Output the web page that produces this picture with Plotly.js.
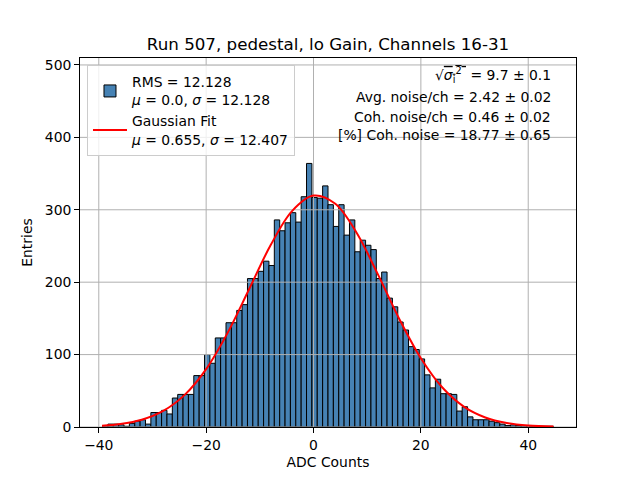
<!DOCTYPE html>
<html>
<head>
<meta charset="utf-8">
<script src="https://cdn.plot.ly/plotly-3.0.1.min.js"></script>
<style>html,body{margin:0;padding:0;background:#fff;}#plot{width:640px;height:480px;}</style>
</head>
<body>
<div id="plot"></div>
<script>
// Histogram of ADC counts (bin width 1, first bin low edge)
const binLow = -39.3;
const binWidth = 1;
const counts = [
  2, 4, 4, 3, 1, 5, 8, 10, 4, 20,
  20, 23, 18, 40, 45, 45, 45, 71, 71, 100,
  88, 123, 123, 144, 144, 161, 169, 205, 205, 215,
  229, 223, 286, 271, 282, 296, 283, 318, 364, 317,
  316, 333, 307, 277, 307, 265, 286, 242, 258, 251,
  245, 205, 214, 178, 166, 145, 134, 111, 107, 94,
  72, 54, 66, 46, 46, 45, 22, 28, 14, 10,
  10, 10, 8, 6, 4, 2, 3, 2, 2, 1,
  1, 1, 1, 1
];
// Gaussian fit curve
const fitX = [-39.4, -36, -32, -28, -24, -20, -16, -12, -8, -4, 0, 4, 8, 12, 16, 20, 24, 28, 32, 36, 40, 44.7];
const fitY = [1.75, 4.1, 10.0, 22.2, 44.4, 80.0, 130, 190.2, 250.9, 298.2, 319.6, 308.6, 268.6, 210.7, 148.9, 94.9, 54.5, 28.2, 13.2, 5.5, 2.1, 0.6];

const xTicks = [-40, -20, 0, 20, 40];
const yTicks = [0, 100, 200, 300, 400, 500];
const xRange = [-43.5, 48.9];
const yRange = [0, 509.6];

const titleText = 'Run 507, pedestal, lo Gain, Channels 16-31';
const histLabel = 'RMS = 12.128<br><i>μ</i> = 0.0, <i>σ</i> = 12.128';
const fitLabel = 'Gaussian Fit<br><i>μ</i> = 0.655, <i>σ</i> = 12.407';
const infoLines = [
  '√<span style="text-decoration:overline"><i>σ</i><sub>i</sub><sup>2</sup> </span> = 9.7 ± 0.1',
  'Avg. noise/ch = 2.42 ± 0.02',
  'Coh. noise/ch = 0.46 ± 0.02',
  '[%] Coh. noise = 18.77 ± 0.65'
];

const centers = counts.map((_, i) => binLow + binWidth * (i + 0.5));

// grid lines built from tick arrays (drawn above bars, below fit like matplotlib)
const gx = [], gy = [];
xTicks.forEach(t => { gx.push(t, t, null); gy.push(yRange[0], yRange[1], null); });
yTicks.forEach(t => { gx.push(xRange[0], xRange[1], null); gy.push(t, t, null); });

const FONT = 'DejaVu Sans, sans-serif';
const FS = 13.9;

const traces = [
  {
    type: 'bar', x: centers, y: counts, width: binWidth,
    marker: {color: '#4682b4', line: {color: '#000000', width: 1}},
    name: histLabel, showlegend: true, hoverinfo: 'skip'
  },
  {
    type: 'scatter', mode: 'lines', x: gx, y: gy,
    line: {color: '#b0b0b0', width: 1}, showlegend: false, hoverinfo: 'skip', connectgaps: false
  },
  {
    type: 'scatter', mode: 'lines', x: fitX, y: fitY,
    line: {color: '#ff0000', width: 2, shape: 'spline', smoothing: 1},
    name: fitLabel
  }
];

const infoY = [0.953, 0.894, 0.840, 0.7925];
const annotations = infoLines.map((t, i) => ({
  text: t, xref: 'paper', yref: 'paper', x: 0.953, y: infoY[i],
  xanchor: 'right', yanchor: 'middle', showarrow: false,
  font: {family: FONT, size: FS, color: '#000'}
}));

const axisCommon = {
  showgrid: false, zeroline: false, showline: true, mirror: true,
  linecolor: '#000', linewidth: 1, ticks: 'outside', ticklen: 4.9, tickwidth: 1,
  tickcolor: '#000', tickfont: {family: FONT, size: FS, color: '#000'}
};

const layout = {
  width: 640, height: 480,
  margin: {l: 80, r: 64, t: 58, b: 53, pad: 0},
  paper_bgcolor: '#fff', plot_bgcolor: '#fff',
  font: {family: FONT, color: '#000'},
  bargap: 0,
  title: {text: titleText, font: {family: FONT, size: 16.7, color: '#000'},
          xref: 'paper', x: 0.5, xanchor: 'center', yref: 'container', y: 0.908, yanchor: 'middle'},
  xaxis: Object.assign({}, axisCommon, {
    range: xRange, tickvals: xTicks, autorange: false,
    title: {text: 'ADC Counts', font: {family: FONT, size: FS, color: '#000'}, standoff: 5}
  }),
  yaxis: Object.assign({}, axisCommon, {
    range: yRange, tickvals: yTicks, autorange: false,
    title: {text: 'Entries', font: {family: FONT, size: FS, color: '#000'}, standoff: 8}
  }),
  legend: {
    x: 0.0141, y: 0.98, xanchor: 'left', yanchor: 'top',
    bgcolor: 'rgba(255,255,255,0.8)', bordercolor: '#cccccc', borderwidth: 1,
    font: {family: FONT, size: FS, color: '#000'}, tracegroupgap: 0, itemwidth: 34
  },
  annotations: annotations,
  showlegend: true
};

Plotly.newPlot('plot', traces, layout, {staticPlot: true, displayModeBar: false});
</script>
</body>
</html>
